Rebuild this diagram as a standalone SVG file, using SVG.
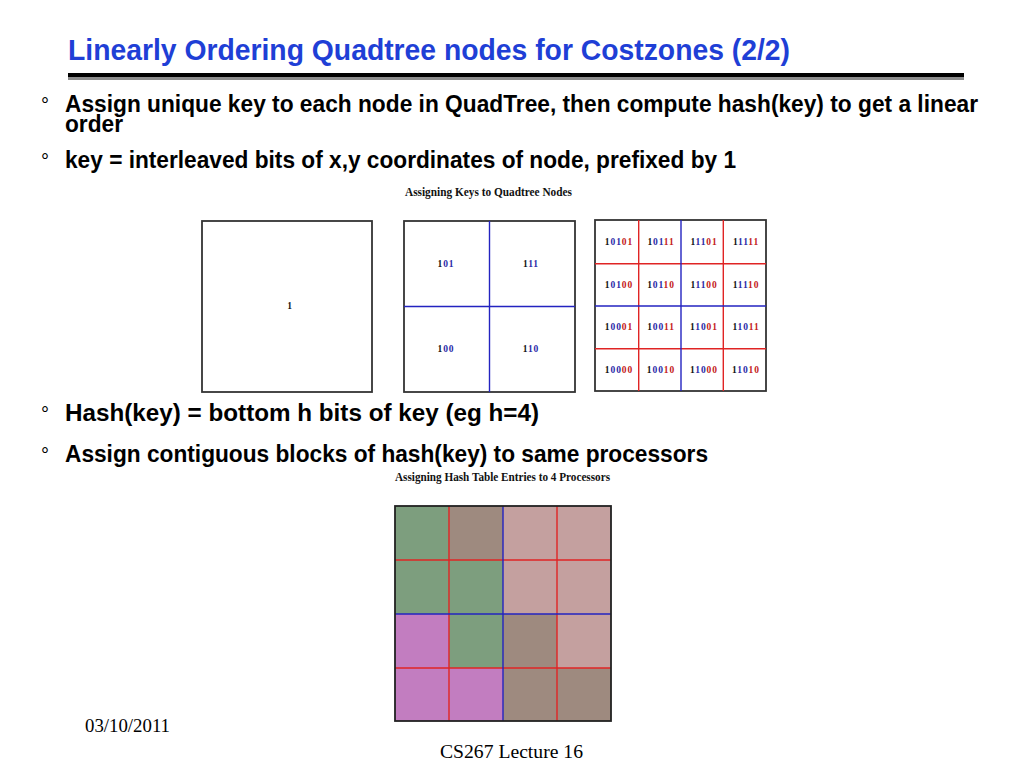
<svg xmlns="http://www.w3.org/2000/svg" width="1024" height="768" viewBox="0 0 1024 768">
<style>
.title{font-family:"Liberation Sans",Arial,sans-serif;font-weight:bold;font-size:29px;fill:#1f3fd6}
.bul{font-family:"Liberation Sans",Arial,sans-serif;font-weight:bold;font-size:23.5px;fill:#000}
.dot{font-family:"Liberation Sans",Arial,sans-serif;font-size:20px;fill:#000}
.cap{font-family:"Liberation Serif","Times New Roman",serif;font-weight:bold;font-size:11.5px;fill:#111}
.foot{font-family:"Liberation Serif","Times New Roman",serif;font-size:19px;fill:#000}
.box{fill:#fff;stroke:#333;stroke-width:1.8}
.bl{stroke:#2323c0;stroke-width:1.4}
.rd{stroke:#e02424;stroke-width:1.4}
.k{font-family:"Liberation Serif","Times New Roman",serif;font-weight:bold;font-size:9.5px;letter-spacing:0.9px;text-anchor:middle}
.p{fill:#111}
.b{fill:#2a2aa8}
.r{fill:#c42020}
.g{fill:#7d9e7e}
.w{fill:#9e8a7f}
.n{fill:#c4a09f}
.m{fill:#c27dc0}
</style>

<g id="header">
<text class="title" x="68" y="60" textLength="722" lengthAdjust="spacingAndGlyphs">Linearly Ordering Quadtree nodes for Costzones (2/2)</text>
<rect x="68" y="73" width="896" height="4" fill="#000"/>
<rect x="68" y="77" width="896" height="3" fill="#8c8c8c"/>
</g>

<g id="bullets">
<text class="dot" x="41" y="112">°</text>
<text class="bul" x="65" y="112" textLength="913" lengthAdjust="spacingAndGlyphs">Assign unique key to each node in QuadTree, then compute hash(key) to get a linear</text>
<text class="bul" x="65" y="132" textLength="58" lengthAdjust="spacingAndGlyphs">order</text>
<text class="dot" x="41" y="168">°</text>
<text class="bul" x="65" y="168" textLength="671" lengthAdjust="spacingAndGlyphs">key = interleaved bits of x,y coordinates of node, prefixed by 1</text>
<text class="dot" x="41" y="421">°</text>
<text class="bul" x="65" y="421" textLength="474" lengthAdjust="spacingAndGlyphs">Hash(key) = bottom h bits of key (eg h=4)</text>
<text class="dot" x="41" y="462">°</text>
<text class="bul" x="65" y="462" textLength="643" lengthAdjust="spacingAndGlyphs">Assign contiguous blocks of hash(key) to same processors</text>
</g>

<text class="cap" x="405" y="196" textLength="167" lengthAdjust="spacingAndGlyphs">Assigning Keys to Quadtree Nodes</text>

<g id="level0">
<rect class="box" x="202" y="221" width="170" height="171"/>
<text class="k" x="290" y="309"><tspan class="p">1</tspan></text>
</g>

<g id="level1">
<rect class="box" x="404" y="221" width="171" height="171"/>
<line class="bl" x1="489.5" y1="221" x2="489.5" y2="392"/>
<line class="bl" x1="404" y1="306.5" x2="575" y2="306.5"/>
<text class="k" x="446" y="267"><tspan class="p">1</tspan><tspan class="b">01</tspan></text>
<text class="k" x="531" y="267"><tspan class="p">1</tspan><tspan class="b">11</tspan></text>
<text class="k" x="446" y="352"><tspan class="p">1</tspan><tspan class="b">00</tspan></text>
<text class="k" x="531" y="352"><tspan class="p">1</tspan><tspan class="b">10</tspan></text>
</g>

<g id="level2">
<rect class="box" x="595" y="220" width="171" height="171"/>
<line class="rd" x1="638.7" y1="220" x2="638.7" y2="391"/>
<line class="rd" x1="723.3" y1="220" x2="723.3" y2="391"/>
<line class="rd" x1="595" y1="263.7" x2="766" y2="263.7"/>
<line class="rd" x1="595" y1="348.8" x2="766" y2="348.8"/>
<line class="bl" x1="681" y1="220" x2="681" y2="391"/>
<line class="bl" x1="595" y1="306" x2="766" y2="306"/>
<text class="k" x="619" y="245"><tspan class="p">1</tspan><tspan class="b">01</tspan><tspan class="r">01</tspan></text>
<text class="k" x="661" y="245"><tspan class="p">1</tspan><tspan class="b">01</tspan><tspan class="r">11</tspan></text>
<text class="k" x="704" y="245"><tspan class="p">1</tspan><tspan class="b">11</tspan><tspan class="r">01</tspan></text>
<text class="k" x="746" y="245"><tspan class="p">1</tspan><tspan class="b">11</tspan><tspan class="r">11</tspan></text>
<text class="k" x="619" y="288"><tspan class="p">1</tspan><tspan class="b">01</tspan><tspan class="r">00</tspan></text>
<text class="k" x="661" y="288"><tspan class="p">1</tspan><tspan class="b">01</tspan><tspan class="r">10</tspan></text>
<text class="k" x="704" y="288"><tspan class="p">1</tspan><tspan class="b">11</tspan><tspan class="r">00</tspan></text>
<text class="k" x="746" y="288"><tspan class="p">1</tspan><tspan class="b">11</tspan><tspan class="r">10</tspan></text>
<text class="k" x="619" y="330"><tspan class="p">1</tspan><tspan class="b">00</tspan><tspan class="r">01</tspan></text>
<text class="k" x="661" y="330"><tspan class="p">1</tspan><tspan class="b">00</tspan><tspan class="r">11</tspan></text>
<text class="k" x="704" y="330"><tspan class="p">1</tspan><tspan class="b">10</tspan><tspan class="r">01</tspan></text>
<text class="k" x="746" y="330"><tspan class="p">1</tspan><tspan class="b">10</tspan><tspan class="r">11</tspan></text>
<text class="k" x="619" y="373"><tspan class="p">1</tspan><tspan class="b">00</tspan><tspan class="r">00</tspan></text>
<text class="k" x="661" y="373"><tspan class="p">1</tspan><tspan class="b">00</tspan><tspan class="r">10</tspan></text>
<text class="k" x="704" y="373"><tspan class="p">1</tspan><tspan class="b">10</tspan><tspan class="r">00</tspan></text>
<text class="k" x="746" y="373"><tspan class="p">1</tspan><tspan class="b">10</tspan><tspan class="r">10</tspan></text>
</g>

<text class="cap" x="395" y="481" textLength="215" lengthAdjust="spacingAndGlyphs">Assigning Hash Table Entries to 4 Processors</text>

<g id="hashtable">
<rect class="g" x="395" y="506" width="54" height="54"/>
<rect class="w" x="449" y="506" width="54" height="54"/>
<rect class="n" x="503" y="506" width="54" height="54"/>
<rect class="n" x="557" y="506" width="54" height="54"/>
<rect class="g" x="395" y="560" width="54" height="54"/>
<rect class="g" x="449" y="560" width="54" height="54"/>
<rect class="n" x="503" y="560" width="54" height="54"/>
<rect class="n" x="557" y="560" width="54" height="54"/>
<rect class="m" x="395" y="614" width="54" height="54"/>
<rect class="g" x="449" y="614" width="54" height="54"/>
<rect class="w" x="503" y="614" width="54" height="54"/>
<rect class="n" x="557" y="614" width="54" height="54"/>
<rect class="m" x="395" y="668" width="54" height="53"/>
<rect class="m" x="449" y="668" width="54" height="53"/>
<rect class="w" x="503" y="668" width="54" height="53"/>
<rect class="w" x="557" y="668" width="54" height="53"/>
<line class="rd" x1="449" y1="506" x2="449" y2="721"/>
<line class="rd" x1="557" y1="506" x2="557" y2="721"/>
<line class="rd" x1="395" y1="560" x2="611" y2="560"/>
<line class="rd" x1="395" y1="668" x2="611" y2="668"/>
<line class="bl" x1="503" y1="506" x2="503" y2="721"/>
<line class="bl" x1="395" y1="614" x2="611" y2="614"/>
<rect x="395" y="506" width="216" height="215" fill="none" stroke="#222" stroke-width="1.8"/>
</g>

<g id="footer">
<text class="foot" x="85" y="732" textLength="85" lengthAdjust="spacingAndGlyphs">03/10/2011</text>
<text class="foot" x="440" y="758" textLength="143" lengthAdjust="spacingAndGlyphs">CS267 Lecture 16</text>
</g>
</svg>
